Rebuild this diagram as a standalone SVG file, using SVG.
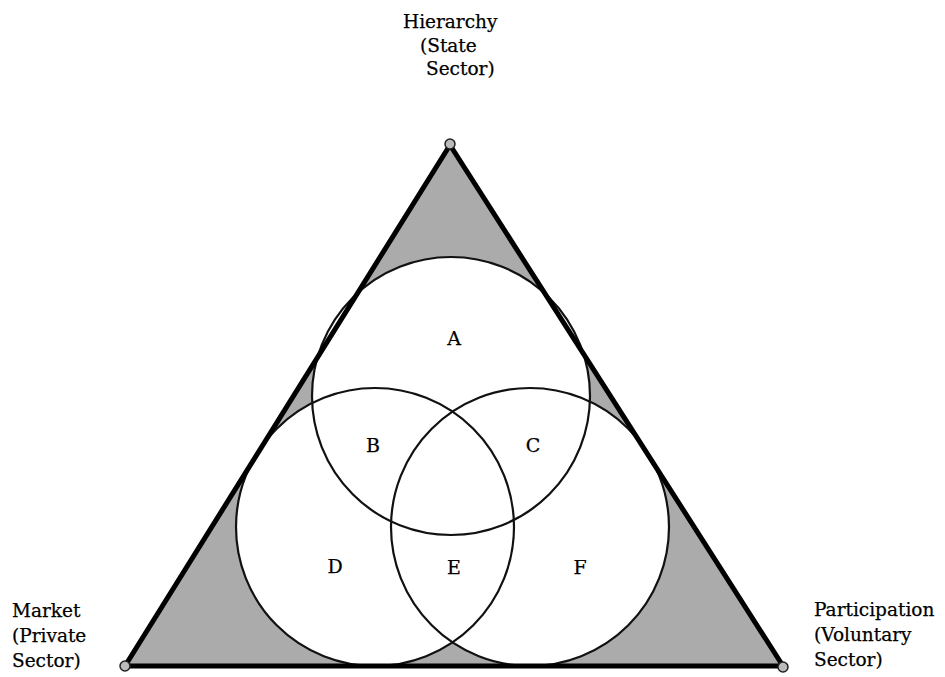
<svg xmlns="http://www.w3.org/2000/svg" width="945" height="677" viewBox="0 0 945 677">
<style>
.lbl{font-family:"DejaVu Serif","Liberation Serif",serif;font-size:18.5px;fill:#000;stroke:#000;stroke-width:0.25}
.reg{font-family:"DejaVu Serif","Liberation Serif",serif;font-size:19px;fill:#000;stroke:#000;stroke-width:0.25;text-anchor:middle}
.circ{fill:none;stroke:#111;stroke-width:2.2}
.vtx{fill:#bbb;stroke:#222;stroke-width:1.5}
</style>
<rect width="945" height="677" fill="#fff"/>
<g id="shading">
<polygon points="450,145 125,666 783,666" fill="#ababab"/>
<circle cx="451" cy="396" r="139" fill="#fff"/>
<circle cx="375" cy="527" r="139" fill="#fff"/>
<circle cx="530" cy="527" r="139" fill="#fff"/>
</g>
<g id="circle-hierarchy"><circle class="circ" cx="451" cy="396" r="139"/></g>
<g id="circle-market"><circle class="circ" cx="375" cy="527" r="139"/></g>
<g id="circle-participation"><circle class="circ" cx="530" cy="527" r="139"/></g>
<g id="triangle"><polygon points="450,145 125,666 783,666" fill="none" stroke="#000" stroke-width="5" stroke-linejoin="round"/></g>
<g id="node-hierarchy">
<circle class="vtx" cx="450" cy="144" r="5"/>
<text class="lbl" x="403" y="28">Hierarchy</text>
<text class="lbl" x="420" y="52">(State</text>
<text class="lbl" x="426" y="75">Sector)</text>
</g>
<g id="node-market">
<circle class="vtx" cx="125" cy="666" r="5"/>
<text class="lbl" x="12" y="617">Market</text>
<text class="lbl" x="12" y="642">(Private</text>
<text class="lbl" x="12" y="667">Sector)</text>
</g>
<g id="node-participation">
<circle class="vtx" cx="783" cy="667" r="5"/>
<text class="lbl" x="814" y="616">Participation</text>
<text class="lbl" x="814" y="641">(Voluntary</text>
<text class="lbl" x="814" y="666">Sector)</text>
</g>
<g id="regions">
<text class="reg" x="454" y="345">A</text>
<text class="reg" x="373" y="452">B</text>
<text class="reg" x="533" y="452">C</text>
<text class="reg" x="335" y="573">D</text>
<text class="reg" x="454" y="574">E</text>
<text class="reg" x="580" y="574">F</text>
</g>
</svg>
